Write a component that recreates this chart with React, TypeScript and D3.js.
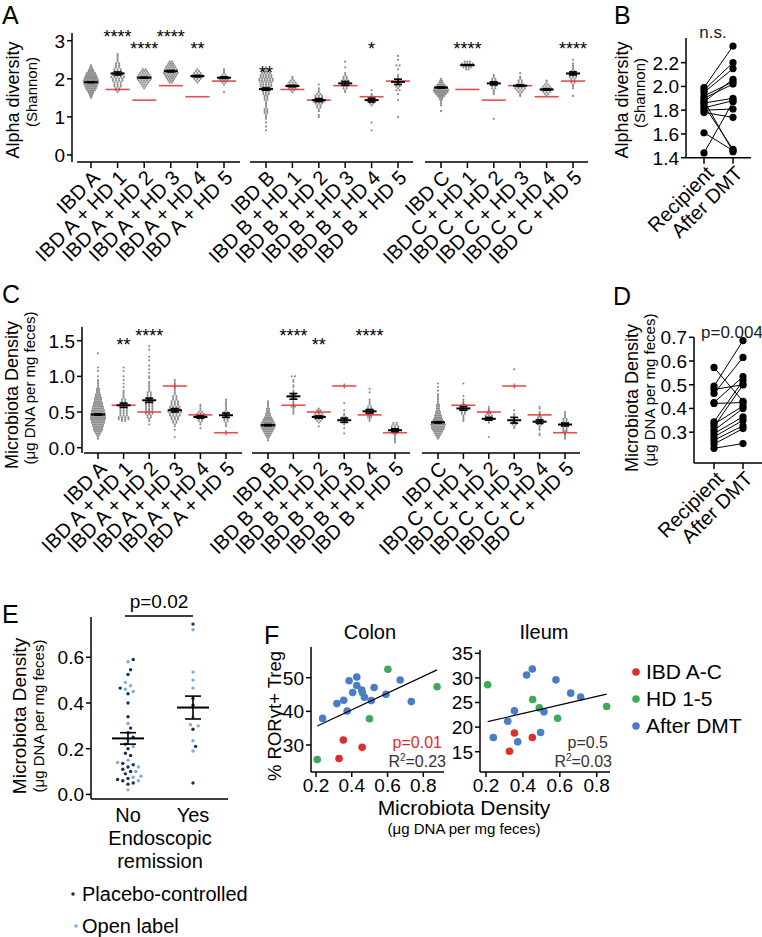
import React from "react";
import * as d3 from "d3";

const FONT = "'Liberation Sans', Arial, Helvetica, sans-serif";
const GREY = "#8a8a8a";
const RED = "#e53b36";

// ---------------- shared categories ----------------
const recipients = ["IBD A", "IBD B", "IBD C"];
const donors = ["HD 1", "HD 2", "HD 3", "HD 4", "HD 5"];

// ---------------- Panel A: Alpha diversity (Shannon) ----------------
const alphaStep = 0.05;
const alphaLo = [1.5, 1.65, 1.75, 1.9, 1.9, 1.65, 0.65, 1.65, 1.0, 1.65, 0.65, 1.0, 1.15, 2.25, 0.95, 1.55, 1.55, 1.55];
const alphaCounts = [
  [1, 2, 3, 4, 6, 7, 8, 9, 10, 10, 9, 8, 7, 6, 4, 3, 2, 1],
  [1, 2, 2, 3, 3, 3, 4, 4, 5, 4, 4, 3, 3, 2, 2, 2, 1, 1, 1, 1, 1],
  [1, 2, 3, 4, 5, 6, 6, 5, 4, 3, 2],
  [2, 3, 4, 5, 6, 7, 6, 6, 5, 4, 3, 2],
  [1, 2, 3, 4, 4, 3, 2, 1],
  [1, 0, 0, 0, 1, 2, 3, 4, 3, 2, 1, 1, 1],
  [1, 0, 1, 0, 1, 0, 1, 1, 1, 2, 2, 2, 1, 1, 1, 1, 2, 2, 2, 3, 3, 4, 4, 5, 5, 5, 6, 6, 5, 5, 4, 3, 2, 1],
  [1, 2, 3, 4, 4, 3, 2, 1, 1],
  [1, 1, 0, 1, 1, 2, 2, 3, 4, 4, 3, 3, 2, 1, 1, 1, 0, 1],
  [1, 1, 2, 2, 3, 3, 3, 2, 2, 1, 1, 0, 0, 1, 0, 0, 1],
  [1, 0, 0, 0, 1, 0, 0, 0, 0, 0, 0, 0, 0, 1, 2, 2, 2, 1, 1, 1, 0, 1],
  [1, 0, 0, 0, 0, 0, 0, 0, 0, 1, 0, 0, 1, 0, 2, 1, 2, 2, 2, 1, 1, 1, 1, 0, 0, 1, 0, 2, 0, 0, 1, 0, 1],
  [1, 0, 0, 1, 1, 1, 2, 3, 5, 7, 9, 10, 9, 7, 5, 3, 2, 1],
  [2, 4, 6, 5, 3],
  [1, 0, 0, 0, 0, 0, 0, 0, 0, 0, 0, 0, 0, 1, 1, 1, 2, 2, 3, 3, 2, 2, 1, 1],
  [1, 1, 2, 3, 4, 4, 3, 2, 2, 1, 1, 0, 1],
  [1, 2, 3, 4, 4, 3, 2, 1, 1],
  [1, 0, 0, 0, 1, 1, 1, 2, 2, 2, 3, 3, 2, 2, 1, 1, 1, 1, 0, 1],
];
const alphaMean = [1.91, 2.14, 2.03, 2.2, 2.07, 2.03, 1.73, 1.81, 1.44, 1.88, 1.44, 1.92, 1.77, 2.36, 1.88, 1.82, 1.72, 2.14];
const alphaSem = [0.01, 0.04, 0.015, 0.02, 0.02, 0.02, 0.03, 0.02, 0.04, 0.05, 0.05, 0.07, 0.015, 0.01, 0.04, 0.02, 0.02, 0.04];
const alphaDonor = [1.72, 1.44, 1.82, 1.53, 1.94];
const alphaStars = ["", "****", "****", "****", "**", "", "**", "", "", "", "*", "", "", "****", "", "", "", "****"];
const alphaStarLevel = [0, 3.2, 2.89, 3.2, 2.89, 0, 2.26, 0, 0, 0, 2.89, 0, 0, 2.89, 0, 0, 0, 2.89];
const alphaTicks = [0, 1, 2, 3];

// ---------------- Panel B ----------------
const shannonRecipient = [1.99, 1.97, 1.95, 1.92, 1.9, 1.87, 1.86, 1.84, 1.82, 1.8, 1.78, 1.88, 1.61, 1.44];
const shannonAfter = [2.34, 2.2, 2.15, 2.04, 2.02, 2.06, 1.9, 1.47, 1.88, 1.81, 1.74, 1.45, 1.46, 1.87];
const shannonTicks = [1.4, 1.6, 1.8, 2.0, 2.2];
const pairCats = ["Recipient", "After DMT"];

// ---------------- Panel C: Microbiota density ----------------
const densStep = 0.025;
const densLo = [0.125, 0.375, 0.325, 0.15, 0.275, 0.3, 0.1, 0.475, 0.3, 0.2, 0.375, 0.075, 0.125, 0.375, 0.15, 0.275, 0.175, 0.125];
const densCounts = [
  [1, 1, 2, 3, 4, 5, 5, 6, 6, 7, 7, 8, 8, 8, 8, 7, 7, 6, 6, 5, 5, 4, 4, 4, 3, 3, 2, 2, 2, 1, 1, 1, 1, 1, 0, 1, 0, 0, 1, 0, 1, 0, 0, 0, 0, 0, 0, 0, 1],
  [2, 4, 4, 3, 3, 3, 3, 3, 3, 3, 2, 2, 2, 1, 1, 1, 1, 1, 0, 1, 0, 1, 0, 1, 0, 1, 0, 0, 1, 0, 1],
  [1, 0, 1, 1, 2, 2, 3, 3, 3, 3, 3, 3, 3, 3, 2, 2, 2, 2, 2, 1, 1, 1, 1, 1, 1, 0, 1, 1, 0, 1, 0, 1, 0, 1, 0, 0, 1, 0, 1, 0, 0, 0, 1, 0, 1],
  [1, 0, 0, 0, 1, 0, 1, 1, 2, 2, 3, 3, 4, 4, 5, 5, 4, 4, 3, 3, 3, 2, 2, 2, 1, 1, 1, 1, 1, 1, 1, 1, 1],
  [1, 0, 1, 1, 2, 2, 3, 4, 3, 2, 1, 1, 1, 1],
  [1, 1, 1, 2, 2, 2, 2, 2, 2, 1, 1, 1, 1, 1, 1, 1],
  [1, 1, 2, 3, 4, 5, 6, 7, 8, 8, 7, 6, 5, 4, 3, 3, 2, 2, 2, 1, 1, 1, 1],
  [1, 1, 1, 1, 2, 1, 1, 1, 1, 2, 2, 2, 1, 1, 0, 1, 1, 0, 1, 1, 0, 2],
  [1, 0, 1, 2, 3, 4, 4, 3, 2, 2, 1],
  [1, 0, 0, 1, 0, 1, 1, 2, 2, 2, 1, 1, 0, 1, 0, 0, 0, 1],
  [1, 1, 2, 2, 3, 3, 3, 2, 2, 1, 1, 1, 1, 0, 0, 0, 1, 0, 1],
  [1, 1, 1, 1, 1, 2, 2, 3, 3, 3, 2, 2],
  [1, 2, 3, 4, 5, 6, 7, 7, 8, 7, 6, 5, 4, 4, 3, 3, 2, 2, 2, 2, 1, 1, 1, 1, 1, 1, 0, 1, 0, 1, 0, 1],
  [1, 1, 1, 1, 2, 2, 3, 3, 2, 2, 1, 1, 1, 0, 1, 0, 0, 0, 0, 0, 0, 1],
  [1, 0, 0, 0, 0, 0, 0, 0, 1, 1, 2, 2, 3, 2, 2, 1, 1, 1],
  [1, 1, 2, 2, 2, 1, 1, 1, 1, 0, 1, 0, 0, 0, 0, 0, 0, 0, 0, 0, 0, 0, 0, 0, 0, 0, 0, 0, 0, 0, 0, 0, 0, 1],
  [1, 1, 0, 1, 1, 1, 2, 2, 2, 2, 2, 1, 1, 1, 0, 1, 1, 0],
  [1, 1, 1, 1, 2, 2, 2, 3, 3, 3, 2, 2, 1, 1, 1, 1],
];
const densMean = [0.465, 0.595, 0.665, 0.525, 0.43, 0.455, 0.316, 0.72, 0.43, 0.385, 0.51, 0.245, 0.355, 0.55, 0.405, 0.385, 0.365, 0.325];
const densSem = [0.01, 0.03, 0.03, 0.025, 0.015, 0.03, 0.01, 0.04, 0.015, 0.03, 0.025, 0.02, 0.01, 0.025, 0.02, 0.04, 0.025, 0.02];
const densDonor = [0.595, 0.5, 0.865, 0.46, 0.21];
const densStars = ["", "**", "****", "", "", "", "", "****", "**", "", "****", "", "", "", "", "", "", ""];
const densStarLevel = [0, 1.5, 1.62, 0, 0, 0, 0, 1.62, 1.5, 0, 1.62, 0, 0, 0, 0, 0, 0, 0];
const densTicks = [0, 0.5, 1.0, 1.5];

// ---------------- Panel D ----------------
const pairDensRecipient = [0.573, 0.494, 0.48, 0.463, 0.425, 0.421, 0.344, 0.334, 0.323, 0.308, 0.294, 0.28, 0.266, 0.25, 0.232];
const pairDensAfter = [0.43, 0.686, 0.5, 0.615, 0.534, 0.425, 0.517, 0.41, 0.5, 0.4, 0.365, 0.35, 0.327, 0.315, 0.252];
const pairDensTicks = [0.3, 0.4, 0.5, 0.6, 0.7];

// ---------------- Panel E ----------------
const remissionCats = ["No", "Yes"];
const noPlacebo = [0.59, 0.545, 0.525, 0.465, 0.44, 0.4, 0.34, 0.29, 0.27, 0.25, 0.22, 0.2, 0.18, 0.17, 0.135, 0.13, 0.12, 0.11, 0.1, 0.09, 0.07, 0.065, 0.06, 0.05, 0.045];
const noOpen = [0.58, 0.49, 0.475, 0.46, 0.45, 0.31, 0.24, 0.21, 0.15, 0.14, 0.12, 0.1, 0.08, 0.075, 0.06, 0.02];
const yesPlacebo = [0.745, 0.42, 0.39, 0.285, 0.21, 0.05];
const yesOpen = [0.72, 0.535, 0.5, 0.465, 0.34, 0.305, 0.3, 0.235, 0.19];
const remissionMean = [0.245, 0.38];
const remissionSem = [0.025, 0.05];
const remissionTicks = [0, 0.2, 0.4, 0.6];

// ---------------- Panel F ----------------
const colonIBDx = [0.329, 0.353, 0.458];
const colonIBDy = [26.0, 31.5, 29.3];
const colonHDx = [0.207, 0.46, 0.499, 0.602, 0.877];
const colonHDy = [25.7, 45.5, 37.8, 52.5, 47.3];
const colonDMTx = [0.237, 0.317, 0.355, 0.374, 0.385, 0.405, 0.428, 0.428, 0.456, 0.471, 0.509, 0.525, 0.591, 0.671, 0.733];
const colonDMTy = [37.9, 42.3, 43.3, 40.1, 49.1, 45.6, 50.2, 47.7, 46.3, 44.2, 43.2, 47.1, 45.1, 49.3, 42.9];
const colonFit = [24.9, 30.5, 0.207, 0.877]; // slope, intercept, x from, x to
const ileumIBDx = [0.327, 0.354, 0.451];
const ileumIBDy = [15.1, 18.8, 17.9];
const ileumHDx = [0.209, 0.453, 0.489, 0.588, 0.854];
const ileumHDy = [28.6, 25.6, 23.9, 21.8, 24.2];
const ileumDMTx = [0.24, 0.318, 0.354, 0.372, 0.42, 0.451, 0.496, 0.514, 0.579, 0.659, 0.713];
const ileumDMTy = [17.9, 21.2, 23.3, 17.0, 30.6, 31.8, 18.9, 23.1, 29.6, 26.9, 26.1];
const ileumFit = [8.68, 19.29, 0.209, 0.854];
const fLegend = ["IBD A-C", "HD 1-5", "After DMT"];
const fColors = ["#de2d2d", "#3caa56", "#4a7dc5"];

const TICK_FS = 19;
const XLAB_FS = 20;

// ================= helpers =================
function YAxis({ x, top, bottom, ticks, scale, fmt, size = TICK_FS }: any) {
  return (
    <g>
      <line x1={x} x2={x} y1={top} y2={bottom} stroke="#000" strokeWidth={1.5} />
      {ticks.map((t: number, i: number) => (
        <g key={i}>
          <line x1={x - 5} x2={x} y1={scale(t)} y2={scale(t)} stroke="#000" strokeWidth={1.5} />
          <text x={x - 7} y={scale(t)} dy="0.36em" textAnchor="end" fontSize={size}>
            {fmt(t)}
          </text>
        </g>
      ))}
    </g>
  );
}

function VLabel({ x, y, text, size }: any) {
  return (
    <text transform={`translate(${x},${y}) rotate(-90)`} textAnchor="middle" fontSize={size}>
      {text}
    </text>
  );
}

function RotLabel({ x, y, text, size = XLAB_FS }: any) {
  return (
    <text transform={`translate(${x},${y}) rotate(-45)`} textAnchor="end" fontSize={size} dy="0.35em">
      {text}
    </text>
  );
}

function MeanSem({ cx, y, mean, sem, w = 14, cap = 8 }: any) {
  const ym = y(mean), y1 = y(mean - sem), y2 = y(mean + sem);
  return (
    <g stroke="#000" strokeWidth={1.6}>
      <line x1={cx - w / 2} x2={cx + w / 2} y1={ym} y2={ym} strokeWidth={2} />
      <line x1={cx} x2={cx} y1={y1} y2={y2} />
      <line x1={cx - cap / 2} x2={cx + cap / 2} y1={y1} y2={y1} />
      <line x1={cx - cap / 2} x2={cx + cap / 2} y1={y2} y2={y2} />
    </g>
  );
}

function DotPanel(p: any) {
  const y = d3.scaleLinear(p.domain, p.range);
  const out: any[] = [];
  p.segs.forEach((seg: number[], g: number) => {
    const cats = [recipients[g], ...donors.map((d) => `${recipients[g]} + ${d}`)];
    const x = d3.scalePoint(cats, p.centers[g]);
    out.push(<line key={`ax${g}`} x1={seg[0]} x2={seg[1]} y1={p.axisY} y2={p.axisY} stroke="#000" strokeWidth={1.5} />);
    cats.forEach((c, j) => {
      const k = g * 6 + j;
      const cx = x(c) as number;
      out.push(<line key={`t${k}`} x1={cx} x2={cx} y1={p.axisY} y2={p.axisY + 6} stroke="#000" strokeWidth={1.5} />);
      out.push(<RotLabel key={`l${k}`} x={cx + 5} y={p.axisY + 12} text={c} />);
      const counts = p.counts[k];
      const maxN = d3.max(counts) as number;
      const sp = Math.min(3.2, 16 / maxN);
      counts.forEach((n: number, i: number) => {
        const v = p.lo[k] + i * p.step;
        for (let m = 0; m < n; m++) {
          out.push(<circle key={`d${k}-${i}-${m}`} cx={cx + (m - (n - 1) / 2) * sp} cy={y(v)} r={p.r} fill={GREY} />);
        }
      });
      if (j > 0) {
        const yd = y(p.donor[j - 1]);
        out.push(<line key={`r${k}`} x1={cx - 12} x2={cx + 12} y1={yd} y2={yd} stroke={RED} strokeWidth={1.6} opacity={0.9} />);
        if (p.redTick)
          out.push(<line key={`rt${k}`} x1={cx} x2={cx} y1={yd - 2.5} y2={yd + 2.5} stroke={RED} strokeWidth={1.2} />);
      }
      out.push(<MeanSem key={`m${k}`} cx={cx} y={y} mean={p.mean[k]} sem={p.sem[k]} />);
      if (p.stars[k])
        out.push(
          <text key={`s${k}`} x={cx} y={y(p.starLevel[k]) + 10} textAnchor="middle" fontSize={18}>
            {p.stars[k]}
          </text>
        );
    });
  });
  return (
    <g>
      <YAxis x={p.axisX} top={p.top} bottom={p.axisY} ticks={p.ticks} scale={y} fmt={p.fmt} />
      {out}
    </g>
  );
}

function PairPanel(p: any) {
  const y = d3.scaleLinear(p.domain, p.range);
  const x = d3.scalePoint(pairCats, p.xs);
  const x0 = x(pairCats[0]) as number, x1 = x(pairCats[1]) as number;
  return (
    <g>
      <YAxis x={p.axisX} top={p.top} bottom={p.axisY} ticks={p.ticks} scale={y} fmt={d3.format(".1f")} />
      <line x1={p.axisX} x2={p.axisEnd} y1={p.axisY} y2={p.axisY} stroke="#000" strokeWidth={1.5} />
      {pairCats.map((c) => (
        <g key={c}>
          <line x1={x(c)} x2={x(c)} y1={p.axisY} y2={p.axisY + 6} stroke="#000" strokeWidth={1.5} />
          <RotLabel x={(x(c) as number) + 6} y={p.axisY + 12} text={c} />
        </g>
      ))}
      {p.before.map((v: number, i: number) => (
        <line key={`l${i}`} x1={x0} x2={x1} y1={y(v)} y2={y(p.after[i])} stroke="#000" strokeWidth={1} />
      ))}
      {p.before.map((v: number, i: number) => (
        <circle key={`a${i}`} cx={x0} cy={y(v)} r={3.6} fill="#000" />
      ))}
      {p.after.map((v: number, i: number) => (
        <circle key={`b${i}`} cx={x1} cy={y(v)} r={3.6} fill="#000" />
      ))}
      <text x={p.noteX} y={p.noteY} textAnchor="middle" fontSize={17} fill="#222">
        {p.note}
      </text>
    </g>
  );
}

function beeswarm(values: number[], y: any, cx: number, minDist: number, step: number) {
  const sorted = values.map((v, i) => ({ v, i })).sort((a, b) => a.v - b.v);
  const placed: { x: number; y: number }[] = [];
  const res: number[] = new Array(values.length);
  sorted.forEach(({ v, i }) => {
    const py = y(v);
    let k = 0;
    let best = cx;
    for (;;) {
      const off = k === 0 ? 0 : (k % 2 === 1 ? 1 : -1) * Math.ceil(k / 2) * step;
      const px = cx + off;
      if (placed.every((p) => (p.x - px) ** 2 + (p.y - py) ** 2 >= minDist * minDist)) {
        best = px;
        break;
      }
      k++;
      if (k > 40) break;
    }
    placed.push({ x: best, y: py });
    res[i] = best;
  });
  return res;
}

function PanelE() {
  const y = d3.scaleLinear([-0.02, 0.776], [799, 617]);
  const x = d3.scalePoint(remissionCats, [128, 193]);
  const dark = "#1f2d4e", light = "#78aee2";
  const groups = [
    { vals: [...noPlacebo, ...noOpen], cols: [...noPlacebo.map(() => dark), ...noOpen.map(() => light)], c: "No" },
    { vals: [...yesPlacebo, ...yesOpen], cols: [...yesPlacebo.map(() => dark), ...yesOpen.map(() => light)], c: "Yes" },
  ];
  return (
    <g>
      <YAxis x={91} top={617} bottom={799} ticks={remissionTicks} scale={y} fmt={d3.format(".1f")} />
      <line x1={91} x2={228} y1={799} y2={799} stroke="#000" strokeWidth={1.5} />
      {groups.map((g, gi) => {
        const cx = x(g.c) as number;
        const xs = beeswarm(g.vals, y, cx, 5.2, 2.6);
        return (
          <g key={gi}>
            {g.vals.map((v, i) => (
              <circle key={i} cx={xs[i]} cy={y(v)} r={1.7} fill={g.cols[i]} />
            ))}
            <MeanSem cx={cx} y={y} mean={remissionMean[gi]} sem={remissionSem[gi]} w={32} cap={16} />
            <text x={cx} y={822} textAnchor="middle" fontSize={20}>
              {g.c}
            </text>
          </g>
        );
      })}
      <text x={160} y={845} textAnchor="middle" fontSize={20}>Endoscopic</text>
      <text x={160} y={868} textAnchor="middle" fontSize={20}>remission</text>
      <line x1={125} x2={193} y1={616} y2={616} stroke="#000" strokeWidth={1.5} />
      <text x={159} y={608} textAnchor="middle" fontSize={19}>p=0.02</text>
      <VLabel x={26} y={716} text="Microbiota Density" size={19} />
      <VLabel x={44} y={716} text="(μg DNA per mg feces)" size={15} />
      <circle cx={73} cy={894} r={1.8} fill={dark} />
      <text x={82} y={901} fontSize={20}>Placebo-controlled</text>
      <circle cx={76} cy={926} r={1.8} fill={light} />
      <text x={82} y={933} fontSize={20}>Open label</text>
    </g>
  );
}

function Scatter(p: any) {
  const x = d3.scaleLinear([0.2, 0.8], p.xr);
  const y = d3.scaleLinear(p.yd, p.yr);
  const sets = [
    [p.ibdx, p.ibdy],
    [p.hdx, p.hdy],
    [p.dmtx, p.dmty],
  ];
  const [slope, icpt, fx0, fx1] = p.fit;
  return (
    <g>
      <YAxis x={p.axisX} top={p.top} bottom={p.axisY} ticks={p.yticks} scale={y} fmt={d3.format("d")} />
      <line x1={p.axisX} x2={p.axisEnd} y1={p.axisY} y2={p.axisY} stroke="#000" strokeWidth={1.5} />
      {[0.2, 0.4, 0.6, 0.8].map((t) => (
        <g key={t}>
          <line x1={x(t)} x2={x(t)} y1={p.axisY} y2={p.axisY + 5} stroke="#000" strokeWidth={1.5} />
          <text x={x(t)} y={p.axisY + 20} textAnchor="middle" fontSize={TICK_FS}>
            {d3.format(".1f")(t)}
          </text>
        </g>
      ))}
      {sets.map((s: any, si: number) =>
        s[0].map((v: number, i: number) => <circle key={`${si}-${i}`} cx={x(v)} cy={y(s[1][i])} r={3.8} fill={fColors[si]} />)
      )}
      <line x1={x(fx0)} x2={x(fx1)} y1={y(slope * fx0 + icpt)} y2={y(slope * fx1 + icpt)} stroke="#000" strokeWidth={1.2} />
      <text x={p.axisEnd - 2} y={p.axisY - 24} textAnchor="end" fontSize={16} fill={p.pColor}>
        {p.pText}
      </text>
      <text x={p.axisEnd + 2} y={p.axisY - 5} textAnchor="end" fontSize={16} fill="#333">
        R<tspan dy="-6" fontSize={10}>2</tspan>
        <tspan dy="6">{p.rText}</tspan>
      </text>
      <text x={p.titleX} y={639} textAnchor="middle" fontSize={20}>
        {p.title}
      </text>
    </g>
  );
}

export default function App() {
  return (
    <svg
      width={762}
      height={937}
      viewBox="0 0 762 937"
      style={{ position: "absolute", left: 0, top: 0, display: "block" }}
      fontFamily={FONT}
    >
      <rect width={762} height={937} fill="#fff" />
      {/* panel letters */}
      <text x={2} y={24} fontSize={25}>A</text>
      <text x={614} y={24} fontSize={25}>B</text>
      <text x={2} y={303} fontSize={25}>C</text>
      <text x={613} y={305} fontSize={25}>D</text>
      <text x={2} y={623} fontSize={25}>E</text>
      <text x={264} y={644} fontSize={25}>F</text>

      {/* Panel A */}
      <VLabel x={19} y={100} text="Alpha diversity" size={18} />
      <VLabel x={37} y={92} text="(Shannon)" size={15} />
      <DotPanel
        domain={[0, 3]}
        range={[155, 40.7]}
        axisX={72}
        top={33}
        axisY={162}
        ticks={alphaTicks}
        fmt={d3.format("d")}
        segs={[[77, 240], [250, 413], [425, 588]]}
        centers={[[91, 224], [266, 398], [441, 573]]}
        lo={alphaLo}
        step={alphaStep}
        counts={alphaCounts}
        mean={alphaMean}
        sem={alphaSem}
        donor={alphaDonor}
        stars={alphaStars}
        starLevel={alphaStarLevel}
        r={1.1}
        redTick={false}
      />

      {/* Panel B */}
      <VLabel x={628} y={100} text="Alpha diversity" size={18} />
      <VLabel x={645} y={93} text="(Shannon)" size={15} />
      <PairPanel
        domain={[1.4, 2.4]}
        range={[157.7, 38.9]}
        axisX={686}
        top={38}
        axisY={157.7}
        axisEnd={751}
        xs={[704, 733]}
        ticks={shannonTicks}
        before={shannonRecipient}
        after={shannonAfter}
        note="n.s."
        noteX={713}
        noteY={38}
      />

      {/* Panel C */}
      <VLabel x={18} y={395} text="Microbiota Density" size={18} />
      <VLabel x={35} y={388} text="(μg DNA per mg feces)" size={15} />
      <DotPanel
        domain={[0, 1.5]}
        range={[447.7, 340.7]}
        axisX={82}
        top={327}
        axisY={453}
        ticks={densTicks}
        fmt={d3.format(".1f")}
        segs={[[84, 242], [252, 410], [422, 580]]}
        centers={[[98, 226], [268, 395], [438, 565]]}
        lo={densLo}
        step={densStep}
        counts={densCounts}
        mean={densMean}
        sem={densSem}
        donor={densDonor}
        stars={densStars}
        starLevel={densStarLevel}
        r={1.05}
        redTick={true}
      />

      {/* Panel D */}
      <VLabel x={638} y={398} text="Microbiota Density" size={18} />
      <VLabel x={655} y={390} text="(μg DNA per mg feces)" size={15} />
      <PairPanel
        domain={[0.17, 0.7]}
        range={[463, 337.3]}
        axisX={694}
        top={337}
        axisY={463}
        axisEnd={762}
        xs={[714, 743]}
        ticks={pairDensTicks}
        before={pairDensRecipient}
        after={pairDensAfter}
        note="p=0.004"
        noteX={732}
        noteY={338}
      />

      {/* Panel E */}
      <PanelE />

      {/* Panel F */}
      <VLabel x={281} y={716} text="% RORγt+ Treg" size={18.5} />
      <Scatter
        xr={[316, 423.3]}
        yd={[30, 50]}
        yr={[745, 677.7]}
        axisX={311}
        axisEnd={444}
        top={647}
        axisY={772}
        yticks={[30, 40, 50]}
        ibdx={colonIBDx}
        ibdy={colonIBDy}
        hdx={colonHDx}
        hdy={colonHDy}
        dmtx={colonDMTx}
        dmty={colonDMTy}
        fit={colonFit}
        pText="p=0.01"
        pColor="#de2d2d"
        rText="=0.23"
        title="Colon"
        titleX={370}
      />
      <Scatter
        xr={[486, 596.7]}
        yd={[15, 35]}
        yr={[751.7, 653.3]}
        axisX={480}
        axisEnd={610}
        top={650}
        axisY={772}
        yticks={[15, 20, 25, 30, 35]}
        ibdx={ileumIBDx}
        ibdy={ileumIBDy}
        hdx={ileumHDx}
        hdy={ileumHDy}
        dmtx={ileumDMTx}
        dmty={ileumDMTy}
        fit={ileumFit}
        pText="p=0.5"
        pColor="#333"
        rText="=0.03"
        title="Ileum"
        titleX={544}
      />
      <text x={464} y={815} textAnchor="middle" fontSize={21}>Microbiota Density</text>
      <text x={464} y={834} textAnchor="middle" fontSize={15}>(μg DNA per mg feces)</text>
      {fLegend.map((t, i) => (
        <g key={t}>
          <circle cx={636} cy={672 + i * 27} r={3.8} fill={fColors[i]} />
          <text x={646} y={672 + i * 27 + 7} fontSize={21}>
            {t}
          </text>
        </g>
      ))}
    </svg>
  );
}
